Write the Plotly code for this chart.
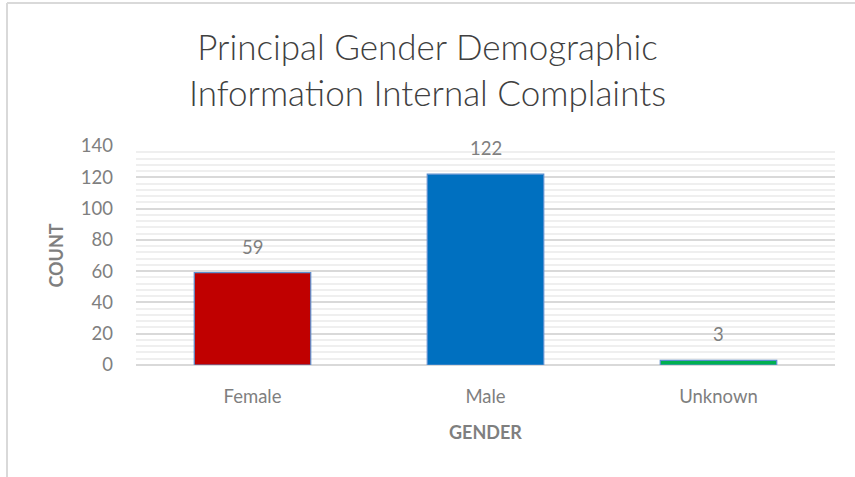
import plotly.graph_objects as go

# Data
genders = ['Female', 'Male', 'Unknown']
counts = [59, 122, 3]
bar_colors = ['#C00000', '#0070C0', '#00B050']

W, H = 855, 477
L, R, T, B = 136, 20, 146, 112
plot_w = W - L - R
plot_h = H - T - B
TXT = '#7F7F7F'

fig = go.Figure()

fig.add_trace(go.Bar(
    x=genders,
    y=counts,
    width=0.5,
    marker=dict(color=bar_colors, line=dict(color='#5B8FD0', width=1.2)),
    hoverinfo='x+y',
))

# Valeurs au-dessus des barres
for g, c in zip(genders, counts):
    fig.add_annotation(
        x=g, y=c, text=str(c), showarrow=False,
        yanchor='bottom', yshift=13,
        font=dict(size=18.5, color=TXT, family='Lato'),
    )

# Cadre du graphique (bords gauche et haut)
def px_x(p):
    return (p - L) / plot_w

def px_y(p):
    return (H - B - p) / plot_h

fig.add_shape(type='line', xref='paper', yref='paper',
              x0=px_x(7), x1=px_x(7), y0=px_y(3), y1=px_y(480),
              line=dict(color='#D9D9D9', width=2))
fig.add_shape(type='line', xref='paper', yref='paper',
              x0=px_x(7), x1=px_x(860), y0=px_y(3), y1=px_y(3),
              line=dict(color='#D9D9D9', width=2))

fig.update_layout(
    width=W, height=H,
    margin=dict(l=L, r=R, t=T, b=B),
    plot_bgcolor='white',
    paper_bgcolor='white',
    showlegend=False,
    font=dict(family='Lato', color=TXT),
    title=dict(
        text='Principal Gender Demographic<br>Information Internal Complaints',
        x=0.5, xanchor='center', y=1 - 60 / H, yanchor='middle',
        font=dict(size=35, color='#404040', family='Lato', weight=300),
    ),
    bargap=0.5,
)

fig.update_yaxes(
    range=[0, 140], dtick=20, tick0=0,
    showgrid=True, gridcolor='#D9D9D9', gridwidth=1.5,
    zeroline=True, zerolinecolor='#D9D9D9', zerolinewidth=1.5,
    showline=False, ticks='',
    tickfont=dict(size=18.5, color=TXT),
    ticklabelstandoff=22,
    minor=dict(dtick=4, showgrid=True, gridcolor='#EFEFEF', gridwidth=1.5),
    title=dict(text='<b>COUNT</b>', font=dict(size=18, color=TXT), standoff=12),
)
fig.update_xaxes(
    showgrid=False, showline=False, ticks='',
    tickfont=dict(size=18.5, color=TXT),
    ticklabelstandoff=18,
    title=dict(text='<b>GENDER</b>', font=dict(size=18, color=TXT), standoff=20),
)

fig.write_html('out.html', config={'displayModeBar': False},
               post_script="document.body.style.margin='0';")
